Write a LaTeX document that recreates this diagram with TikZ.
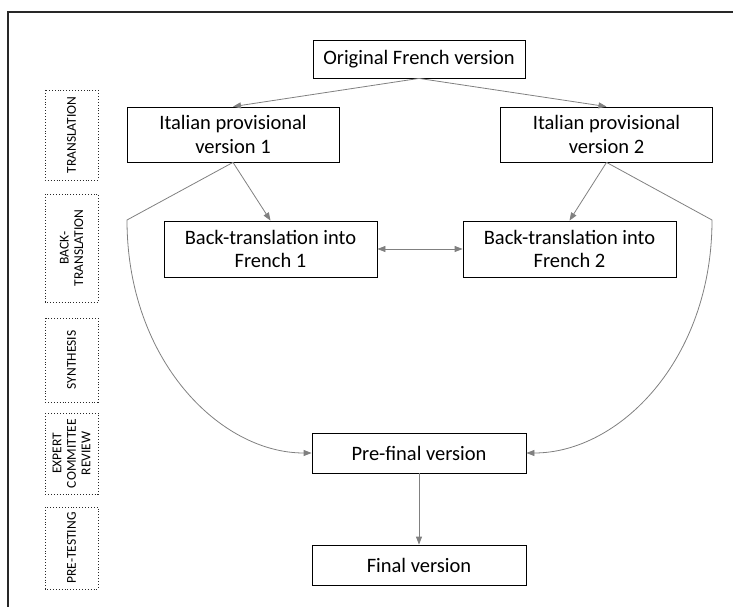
\documentclass[tikz,border=0pt]{standalone}
\usepackage{fontspec}
\setmainfont{Carlito}
\usetikzlibrary{arrows.meta}
\definecolor{arrowgrey}{RGB}{128,128,128}
\definecolor{framegrey}{RGB}{40,40,40}
\begin{document}
\begin{tikzpicture}[x=1pt,y=-1pt,
  stepbox/.style={draw=black,line width=0.8pt,align=center,inner sep=0pt,
    font=\fontsize{20.5}{23.5}\selectfont},
  phasebox/.style={draw=framegrey,dotted,line width=0.9pt,align=center,inner sep=0pt,
    rotate=90,minimum height=53pt,font=\fontsize{13.5}{14.5}\selectfont},
  conn/.style={draw=arrowgrey,line width=0.8pt,-{Triangle[length=8pt,width=6pt]}},
  conn2/.style={draw=arrowgrey,line width=0.8pt,{Triangle[length=8pt,width=6pt]}-{Triangle[length=8pt,width=6pt]}},
  plain/.style={draw=arrowgrey,line width=0.8pt}]
\useasboundingbox (0,0) rectangle (733,607);
% frame
\draw[framegrey,line width=1.3pt] (8,607) -- (8,12) -- (733,12);

% main nodes
\node[stepbox,minimum width=212pt,minimum height=38pt] (orig) at (419,59) {Original French version};
\node[stepbox,minimum width=212pt,minimum height=55pt] (it1) at (233,134.5) {Italian provisional\\version 1};
\node[stepbox,minimum width=212pt,minimum height=55pt] (it2) at (606.5,134.5) {Italian provisional\\version 2};
\node[stepbox,minimum width=213pt,minimum height=56pt] (bt1) at (270.5,249) {Back-translation into\\French 1};
\node[stepbox,minimum width=213pt,minimum height=56pt] (bt2) at (569.5,249) {Back-translation into\\French 2};
\node[stepbox,minimum width=214pt,minimum height=40pt] (pre) at (419,453) {Pre-final version};
\node[stepbox,minimum width=214pt,minimum height=40pt] (fin) at (419,565) {Final version};

% phase labels
\node[phasebox,minimum width=90pt] (ph1) at (71.5,135) {TRANSLATION};
\node[phasebox,minimum width=108pt] (ph2) at (71.5,248) {BACK-\\TRANSLATION};
\node[phasebox,minimum width=84pt] (ph3) at (71.5,360) {SYNTHESIS};
\node[phasebox,minimum width=81pt] (ph4) at (71.5,453.5) {EXPERT\\COMMITTEE\\REVIEW};
\node[phasebox,minimum width=82pt] (ph5) at (71.5,548) {PRE-TESTING};

% connectors
\coordinate (kl) at (127,220);
\coordinate (kr) at (712,220);
\draw[conn] (orig.south) -- (it1.north);
\draw[conn] (orig.south) -- (it2.north);
\draw[conn] (it1.south) -- (bt1.north);
\draw[conn] (it2.south) -- (bt2.north);
\draw[conn2] (bt1.east) -- (bt2.west);
\draw[conn] (it1.south) -- (kl) .. controls (127,360) and (220,453) .. (pre.west);
\draw[conn] (it2.south) -- (kr) .. controls (712,360) and (619,453) .. (pre.east);
\draw[conn] (pre.south) -- (fin.north);
\end{tikzpicture}
\end{document}
